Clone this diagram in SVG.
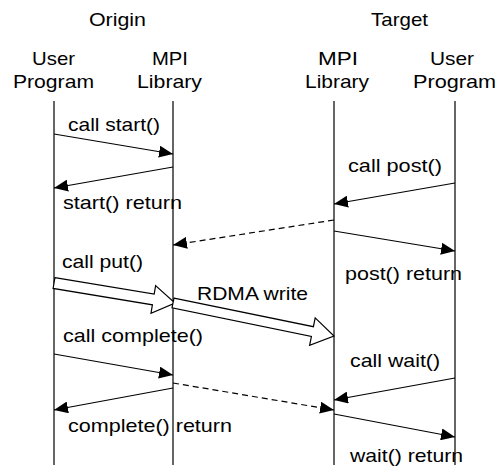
<svg xmlns="http://www.w3.org/2000/svg" width="497" height="467" viewBox="0 0 497 467">
<defs>
<marker id="ah" markerWidth="14" markerHeight="12" refX="14" refY="6" orient="auto" markerUnits="userSpaceOnUse">
<path d="M0,0 L14,6 L0,12 Z" fill="#000"/>
</marker>
<style>
text{font-family:"Liberation Sans",Arial,sans-serif;font-size:19px;fill:#000}
.ll{stroke:#333;stroke-width:1.5;fill:none}
.msg{stroke:#000;stroke-width:1.2;fill:none;marker-end:url(#ah)}
.dash{stroke-dasharray:6,4}
.hollow{fill:#fff;stroke:#000;stroke-width:1.2}
</style>
</defs>
<rect width="497" height="467" fill="#fff"/>
<g id="header">
<text x="89" y="26" textLength="57" lengthAdjust="spacingAndGlyphs">Origin</text>
<text x="371" y="26" textLength="57" lengthAdjust="spacingAndGlyphs">Target</text>
</g>
<g id="origin-user">
<text x="32" y="65" textLength="43" lengthAdjust="spacingAndGlyphs">User</text>
<text x="13" y="88" textLength="81" lengthAdjust="spacingAndGlyphs">Program</text>
<line class="ll" x1="54" y1="101" x2="54" y2="465"/>
</g>
<g id="origin-mpi">
<text x="152" y="65" textLength="36" lengthAdjust="spacingAndGlyphs">MPI</text>
<text x="137" y="88" textLength="65" lengthAdjust="spacingAndGlyphs">Library</text>
<line class="ll" x1="173" y1="101" x2="173" y2="465"/>
</g>
<g id="target-mpi">
<text x="318" y="65" textLength="40" lengthAdjust="spacingAndGlyphs">MPI</text>
<text x="305" y="88" textLength="64" lengthAdjust="spacingAndGlyphs">Library</text>
<line class="ll" x1="334" y1="101" x2="334" y2="465"/>
</g>
<g id="target-user">
<text x="430" y="65" textLength="44" lengthAdjust="spacingAndGlyphs">User</text>
<text x="413" y="88" textLength="83" lengthAdjust="spacingAndGlyphs">Program</text>
<line class="ll" x1="455" y1="101" x2="455" y2="465"/>
</g>
<g id="connectors">
<line class="msg" x1="54" y1="134" x2="173" y2="154"/>
<line class="msg" x1="173" y1="167" x2="54" y2="188"/>
<line class="msg" x1="455" y1="183" x2="334" y2="204"/>
<line class="msg dash" x1="334" y1="220" x2="173" y2="245"/>
<line class="msg" x1="334" y1="231" x2="455" y2="251"/>
<polygon class="hollow" points="54.9,277.6 154.2,294.0 155.6,285.6 175,303 151.0,313.2 152.4,304.8 53.1,288.4"/>
<polygon class="hollow" points="174.0,298.1 313.4,326.7 315.2,317.9 334,336 309.6,345.3 311.4,336.5 172.0,307.9"/>
<line class="msg" x1="54" y1="354" x2="173" y2="375"/>
<line class="msg" x1="173" y1="388" x2="54" y2="410"/>
<line class="msg dash" x1="173" y1="383" x2="334" y2="410"/>
<line class="msg" x1="455" y1="378" x2="334" y2="400"/>
<line class="msg" x1="334" y1="414" x2="455" y2="437"/>
</g>
<g id="labels">
<text x="68" y="131" textLength="92" lengthAdjust="spacingAndGlyphs">call start()</text>
<text x="63" y="209" textLength="119" lengthAdjust="spacingAndGlyphs">start() return</text>
<text x="348" y="172" textLength="94" lengthAdjust="spacingAndGlyphs">call post()</text>
<text x="345" y="280" textLength="117" lengthAdjust="spacingAndGlyphs">post() return</text>
<text x="62" y="268" textLength="81" lengthAdjust="spacingAndGlyphs">call put()</text>
<text x="197" y="300" textLength="111" lengthAdjust="spacingAndGlyphs">RDMA write</text>
<text x="63" y="342" textLength="140" lengthAdjust="spacingAndGlyphs">call complete()</text>
<text x="68" y="432" textLength="164" lengthAdjust="spacingAndGlyphs">complete() return</text>
<text x="350" y="367" textLength="90" lengthAdjust="spacingAndGlyphs">call wait()</text>
<text x="350" y="462" textLength="113" lengthAdjust="spacingAndGlyphs">wait() return</text>
</g>
</svg>
